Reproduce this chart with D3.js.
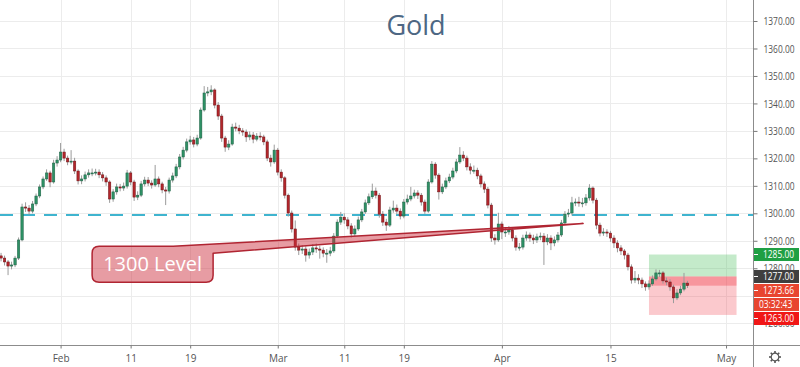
<!DOCTYPE html>
<html><head><meta charset="utf-8">
<script src="https://cdn.jsdelivr.net/npm/d3@7"></script>
<style>body{margin:0;background:#fff;} svg{display:block;font-family:"Open Sans",sans-serif}</style>
</head><body><svg id="c" width="800" height="367"></svg>
<script>
// ---- data ----
const firstOpen = 1284.5;
const closes = [
1283.7,1282.3,1280.8,1281.2,1283.7,1290.3,1302.3,1301.9,1300.8,1303.4,
1306.3,1309.6,1312.5,1314.7,1311.4,1318.3,1319.4,1322.3,1320.1,1318.7,
1319.0,1315.4,1311.8,1312.5,1314.0,1314.7,1314.7,1315.0,1314.0,1312.9,
1311.4,1305.2,1307.8,1309.6,1309.2,1309.9,1314.7,1311.4,1305.9,1306.6,
1310.7,1312.1,1311.0,1310.3,1312.5,1310.7,1308.5,1308.1,1312.1,1313.6,
1316.9,1320.5,1323.0,1326.0,1326.7,1325.2,1327.4,1337.6,1343.8,1344.2,
1344.9,1339.4,1335.4,1327.4,1324.1,1325.2,1331.4,1331.0,1330.0,1329.6,
1327.8,1328.5,1327.0,1328.1,1327.8,1326.0,1320.1,1318.7,1323.0,1315.0,
1312.9,1306.6,1300.1,1294.3,1287.7,1286.6,1287.0,1284.8,1285.9,1287.4,
1287.0,1286.6,1285.5,1285.5,1286.3,1291.7,1296.8,1298.6,1297.6,1295.4,
1292.5,1294.3,1297.6,1300.5,1303.8,1306.0,1308.1,1306.6,1299.7,1296.8,
1295.7,1301.2,1301.9,1300.8,1299.0,1304.1,1305.2,1306.3,1307.4,1306.6,
1304.1,1300.8,1311.4,1317.9,1313.9,1307.8,1309.6,1311.8,1313.2,1315.4,
1318.7,1321.2,1320.1,1316.9,1315.7,1315.7,1313.6,1310.7,1308.8,1303.0,
1291.0,1290.3,1296.1,1293.2,1293.2,1293.9,1291.0,1287.7,1287.7,1291.0,
1292.1,1291.0,1290.3,1291.4,1291.7,1289.6,1291.0,1289.2,1290.3,1292.1,
1296.5,1299.7,1300.1,1303.8,1304.1,1303.8,1303.8,1305.6,1309.2,1304.8,
1295.7,1292.8,1293.2,1292.8,1291.0,1289.2,1287.4,1286.3,1284.8,1280.5,
1275.7,1276.4,1275.7,1274.3,1273.2,1274.3,1276.1,1278.3,1278.3,1275.4,
1275.0,1273.2,1269.2,1271.0,1272.4,1274.6,1273.66];
const highs = [
1285.6,1284.6,1283.0,1282.4,1284.5,1291.2,1303.5,1304.0,1303.0,1304.5,
1307.2,1310.5,1313.4,1316.0,1315.5,1319.5,1320.8,1325.6,1323.5,1321.0,
1323.0,1320.2,1316.0,1313.8,1315.2,1316.0,1316.3,1316.2,1316.0,1315.0,
1313.8,1312.0,1308.8,1310.8,1310.7,1311.2,1315.8,1315.4,1312.2,1308.0,
1311.8,1313.3,1313.2,1312.0,1317.6,1313.4,1311.5,1309.6,1313.0,1314.8,
1318.0,1321.6,1324.2,1327.2,1328.2,1327.8,1328.6,1338.5,1346.3,1346.0,
1346.6,1345.5,1340.5,1336.2,1328.2,1326.6,1332.6,1333.0,1332.2,1331.0,
1330.5,1329.8,1329.6,1329.2,1329.5,1328.6,1326.8,1321.3,1325.0,1323.8,
1316.0,1313.5,1307.2,1301.0,1297.4,1289.0,1288.4,1288.0,1287.2,1288.8,
1289.0,1288.2,1287.6,1287.0,1287.8,1292.8,1297.8,1300.5,1300.0,1298.6,
1296.4,1295.6,1298.8,1301.6,1305.0,1307.2,1310.8,1309.4,1307.4,1300.8,
1298.0,1302.4,1304.6,1303.2,1301.8,1305.2,1306.8,1309.6,1308.6,1308.4,
1307.4,1305.0,1312.4,1319.0,1318.6,1314.6,1310.8,1313.0,1314.4,1316.6,
1319.8,1324.1,1322.6,1321.0,1318.2,1317.4,1316.6,1314.4,1311.6,1309.6,
1303.8,1292.4,1300.2,1297.0,1294.8,1295.4,1294.8,1292.0,1289.2,1292.2,
1293.4,1293.0,1292.2,1292.6,1293.0,1292.8,1292.4,1292.0,1291.6,1293.2,
1297.6,1300.8,1301.6,1306.0,1305.4,1306.0,1305.6,1307.0,1310.6,1309.8,
1305.6,1296.6,1294.6,1294.2,1293.6,1292.0,1290.2,1288.4,1287.0,1285.6,
1281.4,1279.0,1277.8,1276.6,1275.2,1275.6,1277.4,1279.6,1279.4,1279.0,
1276.6,1276.0,1274.0,1272.4,1273.6,1278.3,1275.4];
const lows = [
1282.5,1281.0,1277.5,1279.6,1280.4,1283.0,1289.8,1300.5,1299.5,1300.0,
1302.6,1305.5,1308.8,1311.8,1309.5,1310.8,1317.0,1318.6,1319.0,1317.5,
1317.8,1314.3,1310.5,1310.6,1311.6,1313.0,1313.5,1313.8,1312.8,1311.6,
1310.0,1303.8,1304.2,1306.8,1308.0,1308.2,1309.0,1310.2,1304.5,1304.8,
1305.9,1309.8,1309.9,1309.0,1309.6,1309.5,1307.3,1303.0,1307.2,1311.2,
1312.8,1316.0,1319.6,1322.2,1325.0,1324.0,1324.4,1326.8,1337.0,1342.6,
1343.0,1338.2,1334.0,1326.0,1322.4,1323.0,1324.6,1329.8,1328.8,1328.2,
1326.0,1326.6,1325.5,1326.2,1326.5,1324.8,1319.0,1317.0,1318.0,1313.8,
1311.5,1305.4,1298.8,1293.0,1286.4,1284.8,1285.2,1282.4,1283.5,1284.8,
1285.6,1283.5,1284.0,1282.0,1284.4,1285.6,1291.0,1295.8,1296.2,1294.2,
1291.2,1291.6,1293.6,1296.8,1299.8,1303.0,1305.2,1305.4,1298.4,1295.4,
1293.6,1295.0,1300.2,1299.6,1297.8,1298.2,1303.2,1304.4,1305.4,1305.2,
1302.8,1299.8,1300.2,1310.8,1312.6,1305.0,1307.0,1308.8,1311.0,1312.4,
1314.6,1318.0,1319.0,1315.6,1314.2,1314.4,1312.4,1309.4,1307.4,1301.8,
1289.6,1288.6,1289.6,1290.6,1291.4,1292.2,1289.8,1286.4,1286.4,1286.8,
1290.0,1289.6,1288.8,1289.2,1290.2,1281.2,1288.4,1286.6,1288.0,1289.4,
1291.4,1295.8,1298.6,1299.2,1302.6,1302.4,1302.2,1302.8,1304.6,1303.6,
1294.2,1291.6,1291.8,1291.4,1289.6,1287.4,1285.8,1284.8,1283.2,1279.2,
1274.4,1274.6,1274.2,1272.8,1271.8,1272.2,1273.6,1275.4,1276.8,1274.4,
1273.8,1271.8,1267.3,1268.4,1270.2,1271.6,1272.8];

const priceTicks = [1260,1270,1280,1290,1300,1310,1320,1330,1340,1350,1360,1370];
const dateTickLabels = ["Feb","11","19","Mar","11","19","Apr","15","May"];
const dateTickBars   = [17,37,54,79,98,115,143,174,207];

const levelPrice = 1299.4;
const entryPrice = 1277.0, targetPrice = 1285.0, stopPrice = 1263.0, lastPrice = 1273.66;
const positionBars = [185, 210];
const countdownText = "03:32:43";
const calloutText = "1300 Level";
const calloutAnchor = {bar: 26, price: 1288.0};
const calloutTarget = {bar: 166.2, price: 1296.3};
const titleText = "Gold";

// ---- layout ----
const W = 800, H = 367, plotR = 753, plotB = 345;
const svg = d3.select("#c");
const x = d3.scaleLinear().domain([-0.3, 214.7]).range([0, plotR]);
const y = d3.scaleLinear().domain([1252.06, 1377.65]).range([plotB, 0]);
const fmt = d3.format(".2f");

svg.append("rect").attr("width", W).attr("height", H).attr("fill", "#fff");
svg.append("defs").append("clipPath").attr("id", "plot")
  .append("rect").attr("width", plotR).attr("height", plotB);

// grid
const grid = svg.append("g");
grid.selectAll("line.h").data(priceTicks).join("line")
  .attr("x1", 0).attr("x2", plotR).attr("y1", d => Math.round(y(d)) + .5).attr("y2", d => Math.round(y(d)) + .5)
  .attr("stroke", "#ececec");
grid.selectAll("line.v").data(dateTickBars).join("line")
  .attr("y1", 0).attr("y2", plotB).attr("x1", d => Math.round(x(d)) + .5).attr("x2", d => Math.round(x(d)) + .5)
  .attr("stroke", "#ececec");

// title
svg.append("text").attr("x", 416).attr("y", 35).attr("text-anchor", "middle")
  .attr("font-size", 27).attr("fill", "#4d6783").text(titleText);

const plot = svg.append("g").attr("clip-path", "url(#plot)");

// position tool
const px0 = x(positionBars[0]), px1 = x(positionBars[1]);
plot.append("rect").attr("x", px0).attr("width", px1 - px0)
  .attr("y", y(targetPrice)).attr("height", y(entryPrice) - y(targetPrice)).attr("fill", "rgba(60,185,80,0.3)");
plot.append("rect").attr("x", px0).attr("width", px1 - px0)
  .attr("y", y(entryPrice)).attr("height", y(stopPrice) - y(entryPrice)).attr("fill", "rgba(242,54,69,0.27)");
plot.append("rect").attr("x", px0).attr("width", px1 - px0)
  .attr("y", y(entryPrice)).attr("height", y(lastPrice) - y(entryPrice)).attr("fill", "rgba(242,54,69,0.35)");

// level dashed line
plot.append("line").attr("x1", 0).attr("x2", plotR).attr("y1", y(levelPrice)).attr("y2", y(levelPrice))
  .attr("stroke", "#3fb4cf").attr("stroke-width", 2).attr("stroke-dasharray", "13,9");

// candles
const candles = closes.map((c, i) => ({i, o: i === 0 ? firstOpen : closes[i - 1], c, h: highs[i], l: lows[i]}));
const cg = plot.append("g");
cg.selectAll("line").data(candles).join("line")
  .attr("x1", d => x(d.i)).attr("x2", d => x(d.i))
  .attr("y1", d => y(d.h)).attr("y2", d => y(d.l))
  .attr("stroke", "#9b9b9b").attr("stroke-width", 1);
cg.selectAll("rect").data(candles).join("rect")
  .attr("x", d => x(d.i) - 1.2).attr("width", 2.4)
  .attr("y", d => y(Math.max(d.o, d.c)))
  .attr("height", d => Math.max(1, Math.abs(y(d.o) - y(d.c))))
  .attr("fill", d => d.c >= d.o ? "#2e9165" : "#b3262b")
  .attr("stroke", d => d.c >= d.o ? "#1f5f44" : "#6e1418").attr("stroke-width", 0.5);

// callout
const bx0 = x(calloutAnchor.bar), by0 = y(calloutAnchor.price);
const bw = 121, bh = 36, r = 7;
const bx1 = bx0 + bw, by1 = by0 + bh;
const ax = x(calloutTarget.bar), ay = y(calloutTarget.price);
const cp = d3.path();
cp.moveTo(bx0 + r, by0);
cp.lineTo(bx1 - 40, by0);
cp.lineTo(ax, ay);
cp.lineTo(bx1, by0 + 7);
cp.lineTo(bx1, by1 - r);
cp.quadraticCurveTo(bx1, by1, bx1 - r, by1);
cp.lineTo(bx0 + r, by1);
cp.quadraticCurveTo(bx0, by1, bx0, by1 - r);
cp.lineTo(bx0, by0 + r);
cp.quadraticCurveTo(bx0, by0, bx0 + r, by0);
cp.closePath();
plot.append("path").attr("d", cp.toString()).attr("fill", "rgba(205,45,60,0.47)")
  .attr("stroke", "#b02532").attr("stroke-width", 1.5).attr("stroke-linejoin", "round");
plot.append("text").attr("x", bx0 + bw / 2).attr("y", by0 + bh / 2 + 7).attr("text-anchor", "middle")
  .attr("font-size", 20).attr("fill", "#fff").text(calloutText);

// axes
svg.append("line").attr("x1", plotR + .5).attr("x2", plotR + .5).attr("y1", 0).attr("y2", H).attr("stroke", "#8c8c8c");
svg.append("line").attr("x1", 0).attr("x2", W).attr("y1", plotB + .5).attr("y2", plotB + .5).attr("stroke", "#8c8c8c");

// price labels with stacking (computed first so covered tick labels can be skipped)
const labels = [
  {p: targetPrice, t: fmt(targetPrice), bg: "#1f9f43"},
  {p: entryPrice, t: fmt(entryPrice), bg: "#3f3f3f"},
  {p: lastPrice, t: fmt(lastPrice), bg: "#e8452f", extra: countdownText},
  {p: stopPrice, t: fmt(stopPrice), bg: "#f01616"}
];
const lh = 13;
let prevBottom = -Infinity;
labels.forEach(l => {
  let top = y(l.p) - lh / 2;
  if (top < prevBottom + 1) top = prevBottom + 1;
  l.top = top;
  l.bottom = top + lh * (l.extra ? 2 : 1) + (l.extra ? 1 : 0);
  prevBottom = l.bottom;
});
const covered = v => labels.some(l => y(v) > l.top + 3 && y(v) < l.bottom - 3);

// right price axis: labels narrowed horizontally to fit the 47px strip
const yAxis = d3.axisRight(y).tickValues(priceTicks).tickFormat(fmt).tickSize(4).tickPadding(7);
const ya = svg.append("g").attr("transform", `translate(${plotR + .5},0)`).call(yAxis);
ya.select(".domain").remove();
ya.selectAll("line").attr("stroke", "#777");
ya.selectAll(".tick").filter(d => covered(d)).remove();
ya.selectAll("text").attr("x", null).attr("dy", null)
  .attr("fill", "#555").attr("font-size", 10.5).attr("font-family", "Open Sans, sans-serif")
  .attr("transform", "translate(10,3.6) scale(0.8,1)");

const xAxis = d3.axisBottom(x).tickValues(dateTickBars).tickFormat((d, i) => dateTickLabels[i]).tickSize(3).tickPadding(6);
const xa = svg.append("g").attr("transform", `translate(0,${plotB + .5})`).call(xAxis);
xa.select(".domain").remove();
xa.selectAll("line").attr("stroke", "#777");
xa.selectAll("text").attr("fill", "#555").attr("font-size", 10).attr("font-family", "Open Sans, sans-serif");

const lg = svg.append("g");
labels.forEach(l => {
  lg.append("rect").attr("x", plotR + 1).attr("y", l.top).attr("width", W - plotR - 2).attr("height", lh).attr("fill", l.bg);
  lg.append("line").attr("x1", plotR + 1).attr("x2", plotR + 5).attr("y1", l.top + lh / 2).attr("y2", l.top + lh / 2).attr("stroke", "#fff");
  lg.append("text").attr("transform", `translate(763,${l.top + lh / 2 + 3.6}) scale(0.8,1)`)
    .attr("font-size", 10.5).attr("fill", "#fff").text(l.t);
  if (l.extra) {
    lg.append("rect").attr("x", plotR + 1).attr("y", l.top + lh + 1).attr("width", W - plotR - 2).attr("height", lh).attr("fill", l.bg);
    lg.append("text").attr("transform", `translate(759,${l.top + lh + 1 + lh / 2 + 3.6}) scale(0.8,1)`)
      .attr("font-size", 10.5).attr("fill", "#fff").text(l.extra);
  }
});

// gear icon
const gear = svg.append("g").attr("transform", "translate(775,357)").attr("stroke", "#555").attr("fill", "none");
gear.append("circle").attr("r", 3.8).attr("stroke-width", 1.2);
d3.range(8).forEach(k => {
  const a = k * Math.PI / 4;
  gear.append("line").attr("x1", Math.cos(a) * 3.8).attr("y1", Math.sin(a) * 3.8)
    .attr("x2", Math.cos(a) * 6).attr("y2", Math.sin(a) * 6).attr("stroke-width", 1.6);
});
</script></body></html>
